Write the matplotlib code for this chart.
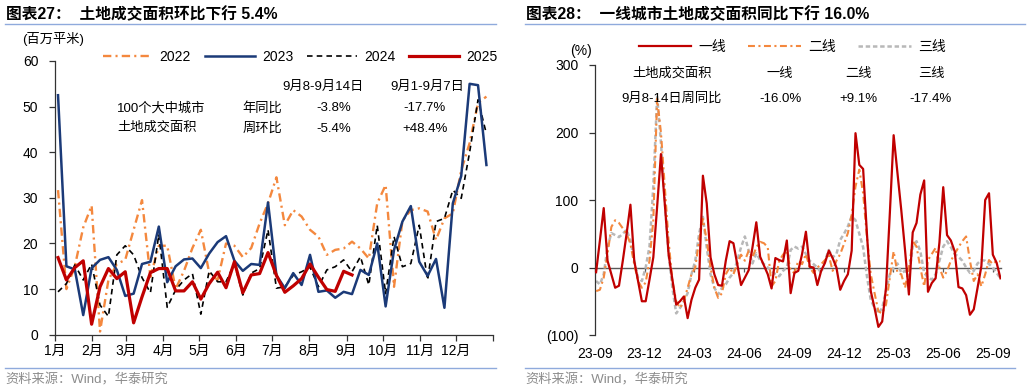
import numpy as np
import pandas as pd
import matplotlib
matplotlib.use('Agg')
import matplotlib.pyplot as plt
from matplotlib.lines import Line2D

plt.rcParams['font.family'] = ['Liberation Sans', 'Noto Sans CJK SC']
plt.rcParams['lines.scale_dashes'] = False

# ---- left chart: 100 city land area, weekly (百万平米)
months = ['1月', '2月', '3月', '4月', '5月', '6月', '7月', '8月', '9月', '10月', '11月', '12月', '']
v2022 = [31.7, 10, 15, 23.5, 28.3, 0.7, 12, 15.5, 16.4, 23, 29.5, 12.7, 19.5, 19.5, 10, 14, 19, 23, 13.5, 12,
         20, 19.5, 17, 19, 24.4, 28.8, 34.5, 24, 27.3, 25.9, 23, 21.5, 17.5, 18.6, 18.9, 20.4, 18.9, 16.7, 28.8, 32.8,
         10.5, 25, 27.3, 27.7, 27, 20.8, 25.5, 26.6, 36, 42, 50.8, 52.2]
v2023 = [52.5, 15, 14.3, 4.3, 14.6, 16.4, 17, 14.2, 8.5, 9, 15.5, 16, 23.7, 11.5, 15, 16.5, 16.7, 14.6, 17.8, 20.3,
         21.6, 16.2, 14, 15.5, 15.3, 29, 13, 10.2, 13.5, 10.9, 17.5, 9.4, 9.7, 8.1, 9.4, 8.9, 14.2, 13.1, 20, 6.2,
         18.6, 24.8, 28.2, 16, 12.9, 16.6, 5.9, 28.8, 34.8, 55, 54.7, 37.2]
v2024 = [9.4, 11.2, 15.3, 12, 15.5, 6.5, 4, 17.5, 19.5, 17.5, 12.5, 9.2, 22, 6, 9.8, 12, 13.4, 4.5, 14, 11.6,
         11.6, 15.6, 8.7, 13.5, 14.5, 23, 10.2, 10.5, 13, 13.8, 14.8, 10.5, 14.2, 14.9, 16.4, 13.8, 17.1, 10.9, 24, 9,
         21.5, 14.9, 15.6, 24, 12, 24.8, 25.5, 31.7, 29.9, 40, 51.5, 44]
v2025 = [16.9, 12, 14.7, 16.2, 2.3, 10.5, 14.5, 12.3, 13.8, 2.6, 8.3, 13.6, 14.5, 14.5, 9.6, 9.6, 11.6, 7.8, 11.2, 13.7,
         10.3, 16, 9.2, 13.1, 13.4, 18, 13, 9.3, 10.7, 12.3, 15.5, 12.6, 9.9, 9.5, 13.9, 13.1]

# ---- right chart: weekly YoY by city tier (%)
tier1 = [-7, 40, 88, 10, -10, -30, -27, 10, 50, 93,
         10, -20, -50, -50, -18, 15, 90, 168, 95, 20,
         -18, -55, -50, -43, -75, -48, -30, -18, 136, 95,
         15, -10, -26, -27, 10, 39, 36, 5, -26, -15,
         -4, 30, 67, 16, 3, -10, -31, 14, 11, 9,
         40, -38, -8, -5, 20, 53, 1, 0, -26, -5,
         7, 25, 14, 0, -33, -20, -10, 25, 199, 152,
         146, 50, -35, -60, -88, -80, -30, 80, 196, 140,
         85, 25, -40, 52, 66, 108, 129, -36, -23, -16,
         37, 119, 48, 40, 24, -29, -31, -41, -70, -62,
         -30, 2, 100, 110, 19, 7, -16]
tier2 = [-35, -33, -15, 20, 60, 70, 66, 58, 50, 35, 5, -20, -30, -22, 10, 70, 250, 200, 120, 40,
         -20, -50, -60, -50, -30, -10, 0,
         40, 72, 40, 0, -30, -45, -38, -10, 0, -10, 5, 19, 10, 25, 15, 30, 38, 36, 30, -28,
         -20, 10, 19, 25, -5, -8, 10, 5, 20,
         0, -8, 0, 5, 11, 18, -5, 10, 20, 35, 51, 78, 120, 145, 110, 45, -10, -38, -65, -68,
         -55, -15, 24, -8, -10,
         -30, 0, 39, 31, 0, -28, 11, 20, 29, 0, -15, -5, 10, 20, 30, 39, 46, 10, -20, -10,
         -28, -10, 11, 5, 10, 9]
tier3 = [-20, -25, -10, 30, 51, 48, 45, 50, 56, 40, 10, -15, -20, 0, 31, 120, 254, 185, 100, 20,
         -30, -68, -60, -50, -38, -10, 10, 50, 75, 30, -10, -30, -40, -30, -25,
         -15, -8, 10, 30, 46, 25, 6, 21, 11, 5, 0, -5, -10, -13, -5, 0, 26, 31, 28, 31,
         20, 10, 5, 0, -8, 10, 26, 15, 20, 41, 50, 61, 76, 70, 50, 30, -13, -48, -60, -68,
         -60, -35, -10, 0, 6, -8,
         -5, -13, 31, 39, 24, -8, -15, -18, -10, 10, 31, 39, 30, 20, 16, 10, 0, -8, -5, 6,
         11, 10, 5, 0, -8, -16]
week_dates = pd.date_range('2023-09-03', periods=len(tier1), freq='7D')

ORANGE = '#F4883E'
NAVY = '#1B3A78'
RED = '#C00000'
GRAY = '#B8B8B8'
RULE = '#8FAADC'
AXC = '#333333'

W, H = 1031, 392
fig = plt.figure(figsize=(W / 100, H / 100), dpi=100)


def fx(px):
    return px / W


def fy(py):
    return 1 - py / H


# ======== left panel ========
ax1 = fig.add_axes([fx(55), fy(334.7), fx(493) - fx(55), fy(61) - fy(334.7)])
x = np.arange(len(v2023))
ax1.plot(x, v2022, color=ORANGE, lw=1.7, ls=(0, (6, 3, 1.5, 3)), label='2022', zorder=2)
ax1.plot(x, v2023, color=NAVY, lw=1.8, label='2023', zorder=4)
ax1.plot(x, v2024, color='black', lw=1.2, ls=(0, (4, 3)), label='2024', zorder=3)
ax1.plot(np.arange(len(v2025)), v2025, color=RED, lw=2.3, label='2025', zorder=5)

month_days = pd.date_range('2025-01-01', periods=13, freq='MS')
month_start = np.array((month_days - month_days[0]).days)
tick_pos = month_start / 7 - 0.36
ax1.set_xticks(tick_pos, months)
ax1.set_xlim(tick_pos[0], tick_pos[-1])
ax1.set_ylim(0, 60)
ax1.set_yticks(range(0, 61, 10))
for s in ['top', 'right']:
    ax1.spines[s].set_visible(False)
for s in ['left', 'bottom']:
    ax1.spines[s].set_color(AXC)
    ax1.spines[s].set_linewidth(0.9)
ax1.tick_params(axis='y', direction='out', length=4, width=0.9, color=AXC, labelsize=10, pad=8)
ax1.tick_params(axis='x', direction='out', length=4, width=0.9, color=AXC, labelsize=10, pad=3)

fig.legend(handles=ax1.get_lines(), loc='center', bbox_to_anchor=(fx(300), fy(57)), ncol=4,
           frameon=False, fontsize=10, handlelength=3.6, columnspacing=1.0, handletextpad=0.5,
           borderpad=0)

fig.text(fx(22), fy(39), '(百万平米)', fontsize=9.5, va='center')

ann = dict(fontsize=9.5, va='center')
fig.text(fx(323), fy(87), '9月8-9月14日', ha='center', **ann)
fig.text(fx(427), fy(87), '9月1-9月7日', ha='center', **ann)
fig.text(fx(117), fy(108), '100个大中城市', ha='left', **ann)
fig.text(fx(117), fy(128), '土地成交面积', ha='left', **ann)
fig.text(fx(262), fy(108), '年同比', ha='center', **ann)
fig.text(fx(262), fy(129), '周环比', ha='center', **ann)
fig.text(fx(334), fy(108), '-3.8%', ha='center', **ann)
fig.text(fx(334), fy(129), '-5.4%', ha='center', **ann)
fig.text(fx(424), fy(108), '-17.7%', ha='center', **ann)
fig.text(fx(425), fy(129), '+48.4%', ha='center', **ann)

# ======== right panel ========
ax2 = fig.add_axes([fx(595), fy(335), fx(1001) - fx(595), fy(65) - fy(335)])
ax2.plot(week_dates, tier3, color=GRAY, lw=1.8, ls=(0, (3.2, 2)), label='三线', zorder=2)
ax2.plot(week_dates, tier2, color=ORANGE, lw=1.5, ls=(0, (5, 2.5, 1.5, 2.5)), label='二线', zorder=3)
ax2.plot(week_dates, tier1, color=RED, lw=1.6, label='一线', zorder=4)

quarters = pd.date_range('2023-09-01', '2025-09-01', freq='3MS')
ax2.set_xlim(pd.Timestamp('2023-09-01'), week_dates[-1] + pd.Timedelta(days=1))
ax2.set_ylim(-100, 300)
ax2.set_yticks([-100, 0, 100, 200, 300], ['(100)', '0', '100', '200', '300'])
ax2.set_xticks(quarters, [d.strftime('%y-%m') for d in quarters])
for s in ['top', 'right', 'bottom']:
    ax2.spines[s].set_visible(False)
ax2.spines['left'].set_color(AXC)
ax2.spines['left'].set_linewidth(0.9)
ax2.tick_params(axis='y', direction='out', length=4, width=0.9, color=AXC, labelsize=10, pad=8)
ax2.tick_params(axis='x', length=0, labelsize=10, pad=9)

zero = ax2.secondary_xaxis(0.25)
zero.set_xticks(quarters, [''] * len(quarters))
zero.tick_params(direction='out', length=3, width=0.9, color='#595959')
for s in zero.spines.values():
    s.set_color('#595959')
    s.set_linewidth(1.0)

h = ax2.get_lines()
fig.legend(handles=[h[2], h[1], h[0]], loc='center', bbox_to_anchor=(fx(792), fy(47)), ncol=3,
           frameon=False, fontsize=10, handlelength=3.8, columnspacing=1.6, handletextpad=0.5,
           borderpad=0)

fig.text(fx(570), fy(51), '(%)', fontsize=10, va='center')
fig.text(fx(672), fy(74), '土地成交面积', ha='center', **ann)
fig.text(fx(780), fy(74), '一线', ha='center', **ann)
fig.text(fx(858), fy(74), '二线', ha='center', **ann)
fig.text(fx(931), fy(74), '三线', ha='center', **ann)
fig.text(fx(672), fy(99), '9月8-14日周同比', ha='center', **ann)
fig.text(fx(781), fy(99), '-16.0%', ha='center', **ann)
fig.text(fx(858), fy(99), '+9.1%', ha='center', **ann)
fig.text(fx(930), fy(99), '-17.4%', ha='center', **ann)

# ======== titles, rules, sources ========
fig.text(fx(6), fy(14), '图表27：  土地成交面积环比下行 5.4%', fontsize=11.3, fontweight='bold', va='center')
fig.text(fx(526), fy(14), '图表28：  一线城市土地成交面积同比下行 16.0%', fontsize=11.3, fontweight='bold',
         va='center')
for x0, x1, yy in [(5, 496, 24), (525, 1025, 24), (5, 496, 368), (525, 1015, 368)]:
    fig.add_artist(Line2D([fx(x0), fx(x1)], [fy(yy), fy(yy)], transform=fig.transFigure, color=RULE, lw=1))
fig.text(fx(5), fy(380), '资料来源：Wind，华泰研究', fontsize=9.5, color='#8C8C8C', va='center')
fig.text(fx(525), fy(380), '资料来源：Wind，华泰研究', fontsize=9.5, color='#8C8C8C', va='center')

fig.savefig('out.png', dpi=100)
